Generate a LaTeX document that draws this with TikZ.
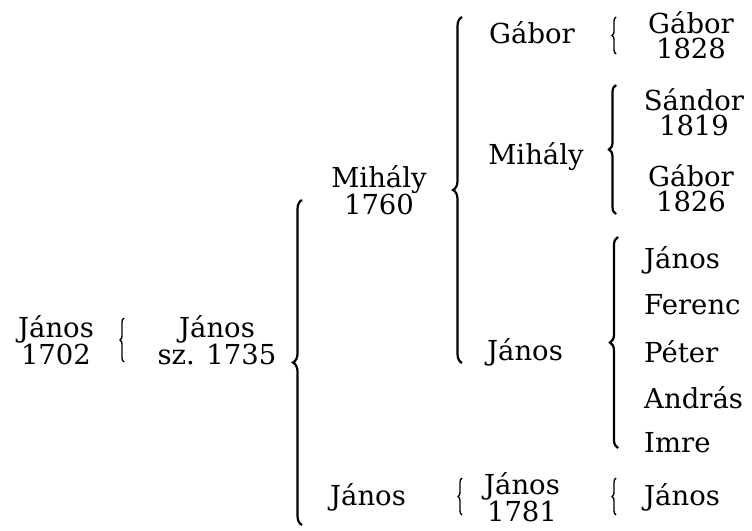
\documentclass[tikz,border=0pt]{standalone}
\usepackage{fontspec}
\setmainfont{DejaVu Serif}
\usetikzlibrary{decorations.pathreplacing}

\tikzset{
  person/.style={align=center,inner sep=0pt},
  kid/.style={anchor=west,inner sep=0pt},
  brc/.style={decorate,decoration={brace,amplitude=#1},line width=2.2pt},
  brc/.default=7pt,
  sbrc/.style={decorate,decoration={brace,amplitude=4pt},line width=1.4pt}
}

\begin{document}
\begin{tikzpicture}[x=1pt,y=-1pt,font=\fontsize{27.5}{25}\selectfont]
  \useasboundingbox (0,0) rectangle (752,530);
  % generations, left to right
  \node[person] (j1702) at (56,340) {János\\1702};
  \node[person] (j1735) at (217,340) {János\\sz. 1735};
  \node[person] (m1760) at (379,190) {Mihály\\1760};
  \node[person] (jb) at (368,497) {János};
  \node[person] (g) at (532,33) {Gábor};
  \node[person] (m) at (536,157) {Mihály};
  \node[person] (j) at (525,352) {János};
  \node[person] (j1781) at (522,497) {János\\1781};
  \node[person] (g1828) at (691,35) {Gábor\\1828};
  \node[person] (s1819) at (694,112) {Sándor\\1819};
  \node[person] (g1826) at (691,188) {Gábor\\1826};
  \node[kid] (k1) at (644,260) {János};
  \node[kid] (k2) at (644,305) {Ferenc};
  \node[kid] (k3) at (644,352) {Péter};
  \node[kid] (k4) at (644,398) {András};
  \node[kid] (k5) at (644,443) {Imre};
  \node[kid] (k6) at (644,497) {János};
  % brace ends
  \coordinate (a1) at (124,318); \coordinate (a2) at (124,362);
  \coordinate (b1) at (302,200); \coordinate (b2) at (302,525);
  \coordinate (c1) at (462,17);  \coordinate (c2) at (462,363);
  \coordinate (d1) at (462,478); \coordinate (d2) at (462,515);
  \coordinate (e1) at (616,17);  \coordinate (e2) at (616,54);
  \coordinate (f1) at (616,85);  \coordinate (f2) at (616,214);
  \coordinate (h1) at (618,237); \coordinate (h2) at (618,448);
  \coordinate (i1) at (616,478); \coordinate (i2) at (616,515);
  % braces
  \draw[sbrc] (a2) -- (a1);
  \draw[brc=9pt] (b2) -- (b1);
  \draw[brc=9pt] (c2) -- (c1);
  \draw[sbrc] (d2) -- (d1);
  \draw[sbrc] (e2) -- (e1);
  \draw[brc=7pt] (f2) -- (f1);
  \draw[brc=8pt] (h2) -- (h1);
  \draw[sbrc] (i2) -- (i1);
\end{tikzpicture}
\end{document}
